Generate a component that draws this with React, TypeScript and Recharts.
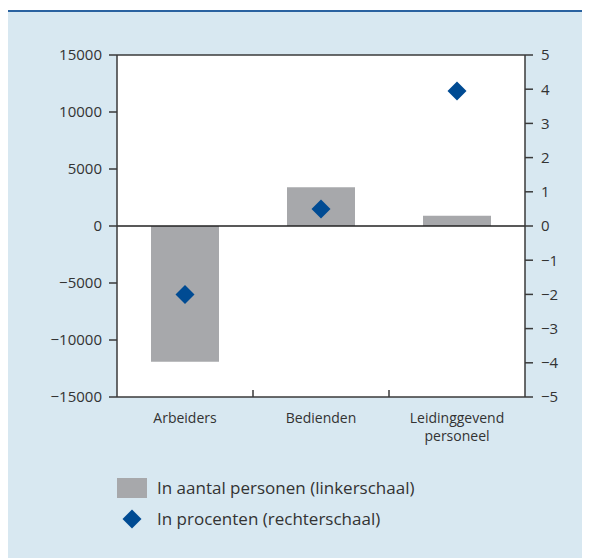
import { ComposedChart, Bar, Line, XAxis, YAxis, ReferenceLine } from 'recharts'

const categories = ['Arbeiders', 'Bedienden', 'Leidinggevend personeel']
const personen = [-11900, 3400, 900]
const procenten = [-2.0, 0.5, 3.95]
const leftTicks = [-15000, -10000, -5000, 0, 5000, 10000, 15000]
const rightTicks = [-5, -4, -3, -2, -1, 0, 1, 2, 3, 4, 5]

const data = categories.map((name, i) => ({ name, personen: personen[i], procenten: procenten[i] }))

const FONT = '"Open Sans", "Noto Sans", sans-serif'
const TEXT = '#333333'
const AXIS = '#3a3a3a'
const BAR = '#a7a8ab'
const DIAMOND = '#004b93'
const BG = '#d8e8f1'

const minus = (v: number) => String(v).replace('-', '\u2212')

const Diamond = ({ cx, cy, size = 9.5 }: { cx?: number; cy?: number; size?: number }) => {
  if (cx == null || cy == null) return null
  const r = size
  return <polygon points={`${cx},${cy - r} ${cx + r},${cy} ${cx},${cy + r} ${cx - r},${cy}`} fill={DIAMOND} />
}

const CategoryTick = (props: any) => {
  const { x, y, payload, index } = props
  const lines = String(payload.value).split(' ')
  const half = payload.offset ?? 68
  return (
    <g>
      <text x={x} y={y + 26} textAnchor="middle" fill={TEXT} fontSize={14} fontFamily={FONT}>
        {lines.map((l, i) => (
          <tspan key={i} x={x} dy={i === 0 ? 0 : 18}>{l}</tspan>
        ))}
      </text>
      {index < categories.length - 1 && (
        <line x1={x + half} x2={x + half} y1={y - 7} y2={y} stroke={AXIS} strokeWidth={1.5} />
      )}
    </g>
  )
}

export default function App() {
  return (
    <div style={{ marginTop: 2, width: 582, height: 546, background: BG, borderTop: '2px solid #2a62a0', position: 'relative', fontFamily: FONT }}>
      <ComposedChart width={582} height={435} data={data} margin={{ top: 43, right: 20, left: 9, bottom: 0 }} barCategoryGap="25%" style={{ position: 'absolute', left: 0, top: 0 }}>
        <rect x={109} y={43} width={408} height={342} fill="#ffffff" />
        <XAxis dataKey="name" height={50} tickSize={0} tickMargin={0} interval={0} tick={<CategoryTick />} axisLine={{ stroke: AXIS, strokeWidth: 1.5 }} />
        <YAxis yAxisId="left" width={100} domain={[-15000, 15000]} ticks={leftTicks} tickFormatter={minus} tickSize={8} tickMargin={7} tick={{ fill: TEXT, fontSize: 15, fontFamily: FONT }} axisLine={{ stroke: AXIS, strokeWidth: 1.5 }} tickLine={{ stroke: AXIS, strokeWidth: 1.5 }} />
        <YAxis yAxisId="right" orientation="right" width={45} domain={[-5, 5]} ticks={rightTicks} tickFormatter={minus} tickSize={8} tickMargin={8} tick={{ fill: TEXT, fontSize: 15, fontFamily: FONT, textAnchor: 'start' }} axisLine={{ stroke: AXIS, strokeWidth: 1.5 }} tickLine={{ stroke: AXIS, strokeWidth: 1.5 }} />
        <Bar yAxisId="left" dataKey="personen" fill={BAR} isAnimationActive={false} />
        <ReferenceLine yAxisId="left" y={0} stroke="#222222" strokeWidth={1.5} />
        <ReferenceLine yAxisId="left" y={15000} stroke={AXIS} strokeWidth={1.5} />
        <Line
          yAxisId="right"
          dataKey="procenten"
          stroke="none"
          dot={(p: any) => <Diamond key={p.index} cx={p.cx} cy={p.cy} />}
          activeDot={false}
          isAnimationActive={false}
        />
      </ComposedChart>
      <div style={{ position: 'absolute', left: 109, top: 466, display: 'flex', alignItems: 'center', height: 20 }}>
        <div style={{ width: 30, height: 20, background: BAR }} />
        <span style={{ marginLeft: 10, fontSize: 17, color: TEXT, lineHeight: '20px', whiteSpace: 'nowrap' }}>In aantal personen (linkerschaal)</span>
      </div>
      <div style={{ position: 'absolute', left: 109, top: 497, display: 'flex', alignItems: 'center', height: 20 }}>
        <svg width={30} height={20}>
          <Diamond cx={15} cy={10} size={9.5} />
        </svg>
        <span style={{ marginLeft: 10, fontSize: 17, color: TEXT, lineHeight: '20px', whiteSpace: 'nowrap' }}>In procenten (rechterschaal)</span>
      </div>
    </div>
  )
}
